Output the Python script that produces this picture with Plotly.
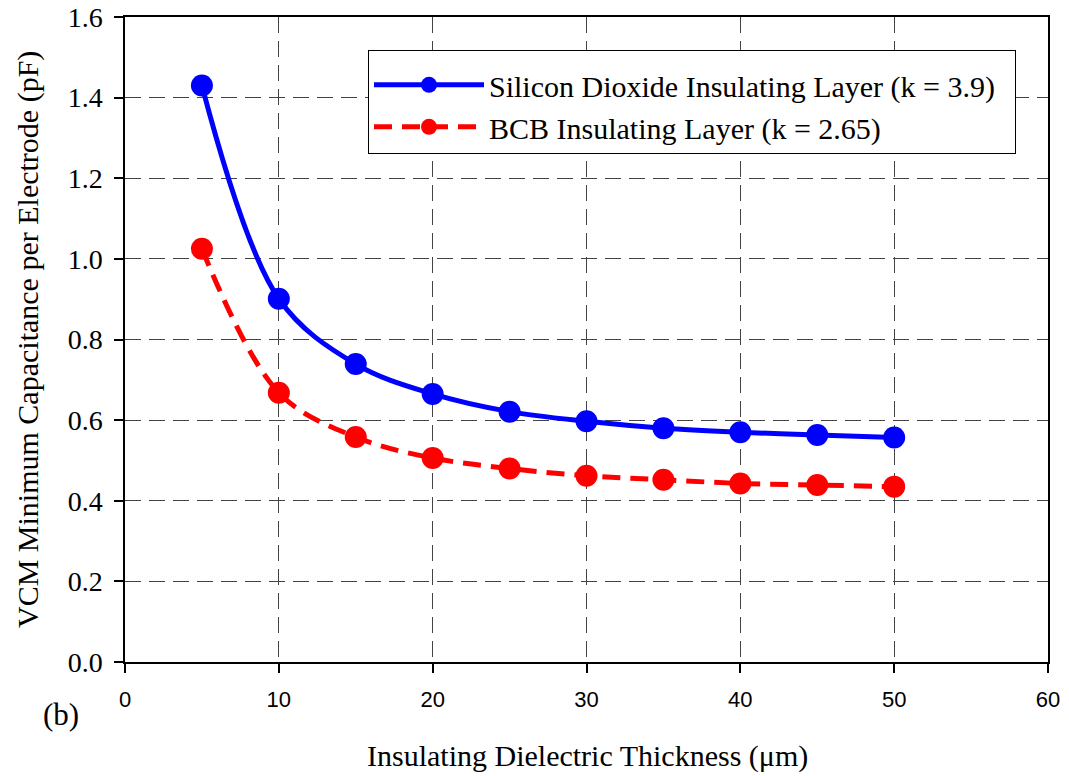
import plotly.graph_objects as go

thickness = [5, 10, 15, 20, 25, 30, 35, 40, 45, 50]
sio2_cap = [1.430, 0.901, 0.739, 0.665, 0.621, 0.597, 0.580, 0.570, 0.563, 0.557]
bcb_cap = [1.025, 0.668, 0.558, 0.506, 0.480, 0.462, 0.452, 0.443, 0.439, 0.435]

x_ticks = [0, 10, 20, 30, 40, 50, 60]
y_ticks = [0.0, 0.2, 0.4, 0.6, 0.8, 1.0, 1.2, 1.4, 1.6]
y_tick_labels = ["0.0", "0.2", "0.4", "0.6", "0.8", "1.0", "1.2", "1.4", "1.6"]

serif = "Liberation Serif, Times New Roman, serif"
sans = "Liberation Sans, Arial, sans-serif"

W, H = 1069, 776
ML, MR, MT, MB = 125, 21, 17, 114
plot_w = W - ML - MR
plot_h = H - MT - MB


def px_x(px):
    return (px - ML) / plot_w


def px_y(py):
    return (H - MB - py) / plot_h


fig = go.Figure()
fig.add_trace(go.Scatter(
    x=thickness, y=sio2_cap, mode="lines+markers",
    name="Silicon Dioxide Insulating Layer (k = 3.9)\u00a0\u00a0",
    legendgroup="a",
    line=dict(color="#0000ff", width=5, shape="spline", smoothing=1.0),
    marker=dict(color="#0000ff", size=22),
))
fig.add_trace(go.Scatter(
    x=thickness, y=bcb_cap, mode="lines+markers",
    name="BCB Insulating Layer (k = 2.65)",
    legendgroup="b",
    line=dict(color="#ff0000", width=5, shape="spline", smoothing=1.0, dash="18px,10px"),
    marker=dict(color="#ff0000", size=22),
))

fig.update_layout(
    width=W, height=H,
    margin=dict(l=ML, r=MR, t=MT, b=MB, autoexpand=False),
    paper_bgcolor="white", plot_bgcolor="white",
    showlegend=True,
    legend=dict(
        x=px_x(368), y=px_y(50), xanchor="left", yanchor="top",
        bgcolor="white", bordercolor="black", borderwidth=1,
        font=dict(family=serif, size=30, color="black"),
        title=dict(text="\u00a0", font=dict(size=6)),
        tracegroupgap=0, itemwidth=110,
    ),
    annotations=[
        dict(text="(b)", x=px_x(61), y=px_y(714),
             xref="paper", yref="paper", showarrow=False,
             xanchor="center", yanchor="middle",
             font=dict(family=serif, size=31, color="black")),
        dict(text="Insulating Dielectric Thickness (\u03bcm)", x=px_x(587), y=px_y(756),
             xref="paper", yref="paper", showarrow=False,
             xanchor="center", yanchor="middle",
             font=dict(family=serif, size=30, color="black")),
        dict(text="VCM Minimum Capacitance per Electrode (pF)", x=px_x(28), y=px_y(340),
             xref="paper", yref="paper", showarrow=False, textangle=-90,
             xanchor="center", yanchor="middle",
             font=dict(family=serif, size=30, color="black")),
    ],
)

fig.update_xaxes(
    range=[0, 60], tickvals=x_ticks, ticktext=[str(v) for v in x_ticks],
    showline=True, linecolor="black", linewidth=1.5, mirror=True,
    ticks="outside", ticklen=9, tickcolor="black", tickwidth=1.5,
    ticklabelstandoff=8, automargin=False,
    showgrid=True, gridcolor="#444444", gridwidth=1.3, griddash="16px,8px",
    zeroline=False,
    tickfont=dict(family=sans, size=22, color="black"),
)
fig.update_yaxes(
    range=[0, 1.6], tickvals=y_ticks, ticktext=y_tick_labels,
    showline=True, linecolor="black", linewidth=1.5, mirror=True,
    ticks="outside", ticklen=9, tickcolor="black", tickwidth=1.5,
    ticklabelstandoff=6, automargin=False,
    showgrid=True, gridcolor="#444444", gridwidth=1.3, griddash="16px,8px",
    zeroline=False,
    tickfont=dict(family=serif, size=28, color="black"),
)

fig.write_html("out.html")
